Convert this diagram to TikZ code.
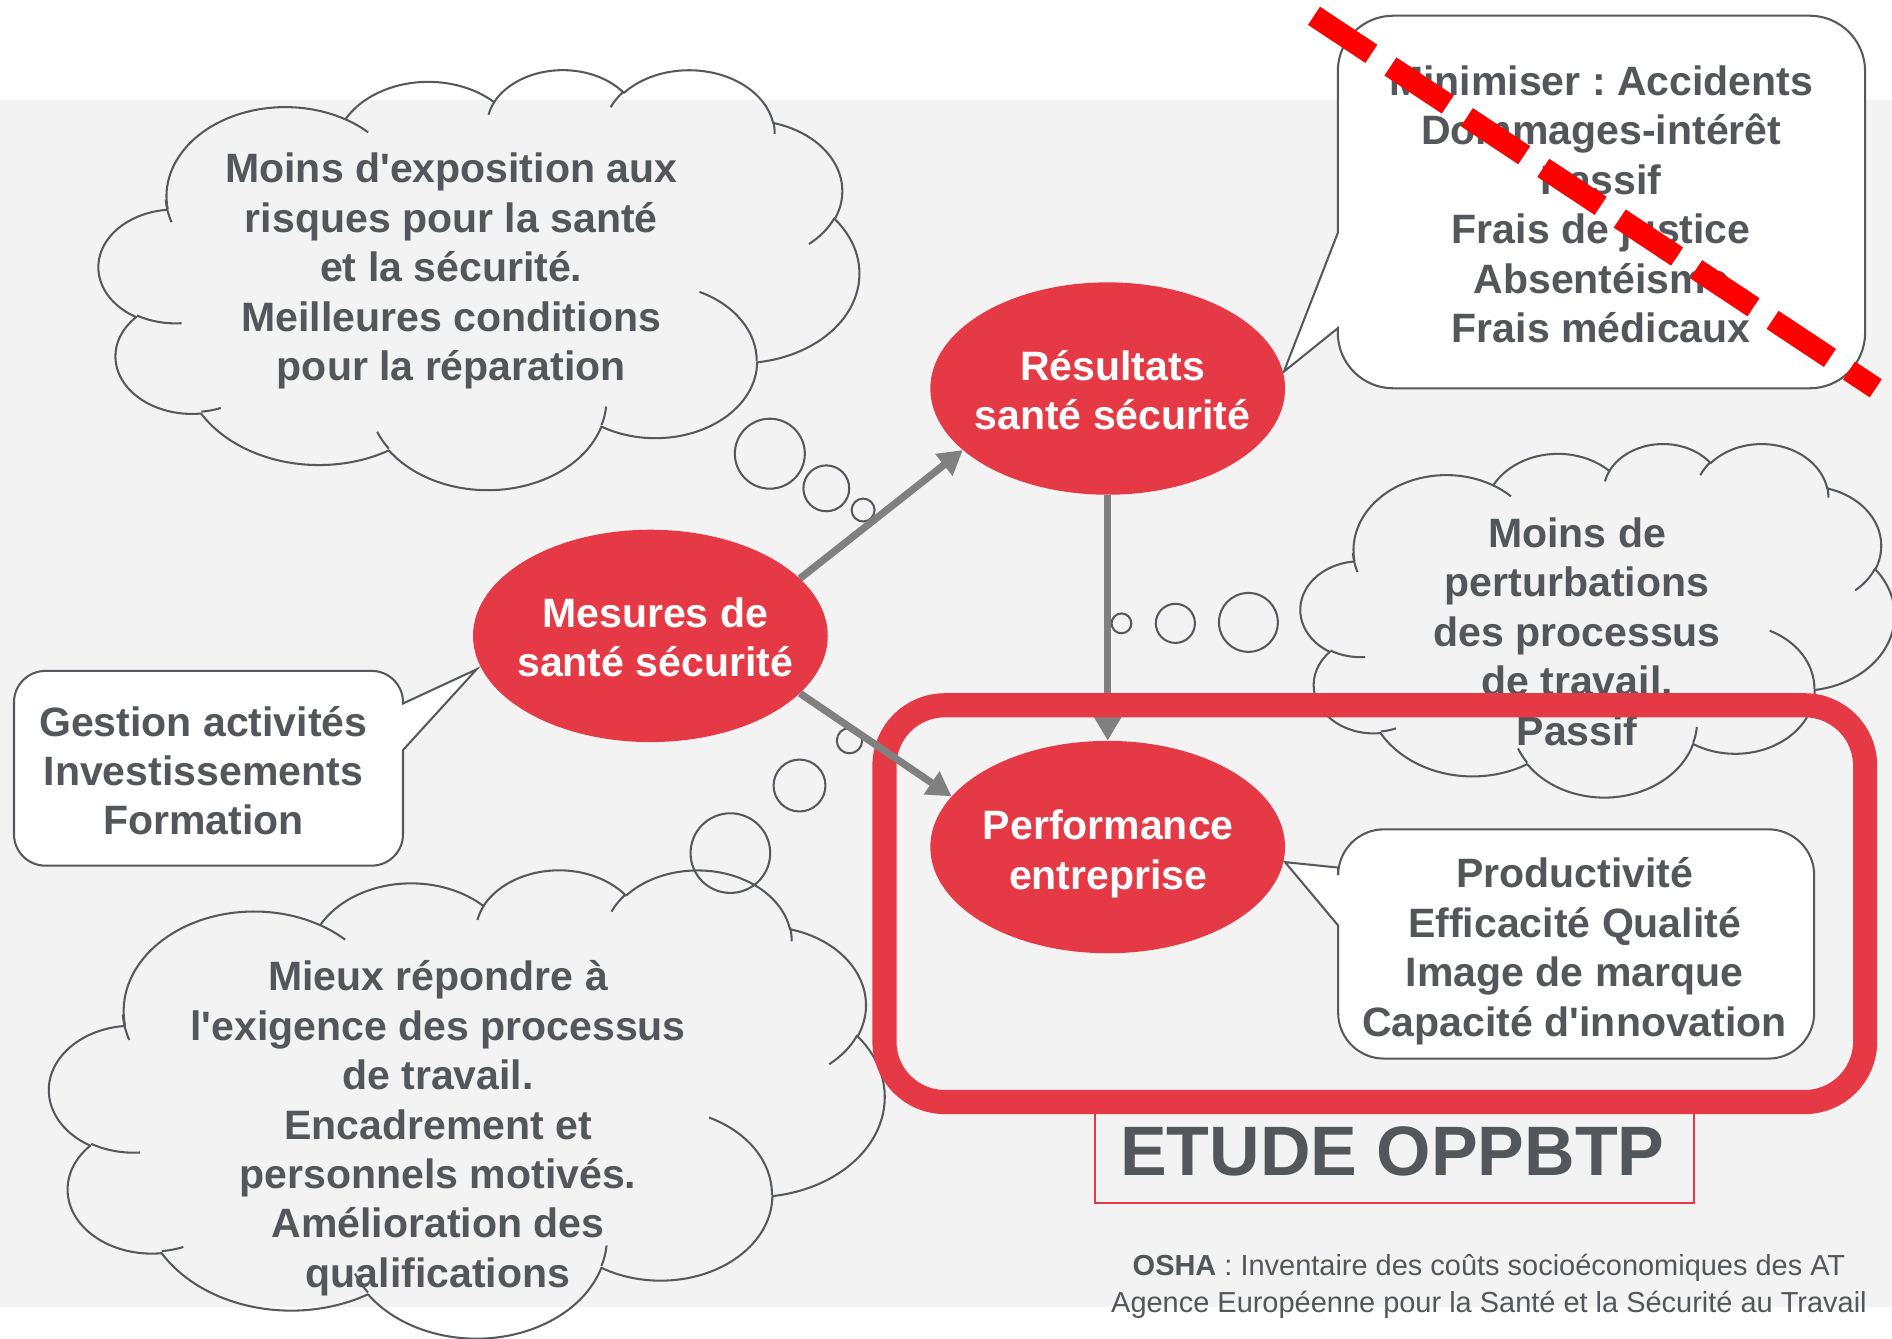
\documentclass[tikz,border=0pt]{standalone}
\usepackage{fontspec}
\setmainfont{Liberation Sans}
\usetikzlibrary{arrows.meta,shapes.geometric}
\frenchspacing
\definecolor{bgGray}{RGB}{243,243,243}
\definecolor{txtGray}{RGB}{83,86,90}
\definecolor{lnGray}{RGB}{85,88,92}
\definecolor{redOS}{RGB}{230,57,70}
\definecolor{arrGray}{RGB}{128,128,128}
\newcommand\topst{\rule{0pt}{39pt}}
\newcommand\botst{\rule[-7pt]{0pt}{7pt}}
\newcommand\topsm{\rule{0pt}{28pt}}
\newcommand\botsm{\rule[-4.8pt]{0pt}{4.8pt}}
\newcommand\ap{\textquotesingle}
\newcommand\carc[4]{arc[x radius=#1, y radius=#2, start angle={atan2((#1)*sin(#3),(#2)*cos(#3))}, delta angle={mod(atan2((#1)*sin((#3)+(#4)),(#2)*cos((#3)+(#4)))-atan2((#1)*sin(#3),(#2)*cos(#3))+720,360)}]}
\newcommand\cloudAt[4]{%
 \begin{scope}[shift={(#1,#2)}, x=#3pt/4320, y=-#4pt/4320]
 \draw[cloudln] (390,1437) \carc{675.3}{919.0}{-190.48748}{123.78053} \carc{533.3}{726.7}{-144.10238}{89.94523} \carc{436.5}{594.5}{-145.80792}{99.72302} \carc{485.7}{659.5}{-130.98607}{117.24173} \carc{533.3}{727.3}{-78.70888}{109.02692} \carc{677.5}{922.0}{-46.26725}{130.269} \carc{578.5}{786.7}{0.62502}{114.03333} \carc{675.2}{921.5}{22.4516}{115.17255} \carc{772.0}{1054.3}{66.24263}{75.71102} \carc{436.0}{591.8}{-274.94208}{146.73557} \carc{434.5}{594.5}{-246.8285}{152.51885} -- cycle;
 \draw[cloudln] (469.3,2617.7) \carc{434.5}{594.5}{86.742}{26.4295}
   (692.8,3489.9) \carc{436.0}{591.8}{73.61047}{11.44747}
   (1647.8,3909.0) \carc{675.2}{921.5}{137.62415}{14.0811}
   (2882.7,3475.1) \carc{675.2}{921.5}{6.45327}{15.99835}
   (3412.9,2295.4) \carc{578.5}{786.7}{-70.29235}{70.91737}
   (4179.8,1535.4) \carc{533.3}{727.3}{30.31803}{27.7515}
   (3832.4,542.6) \carc{485.7}{659.5}{-13.74433}{14.8589}
   (2907.8,395.2) \carc{485.7}{659.5}{-149.18145}{18.19537}
   (2214.1,472.0) \carc{436.5}{594.5}{-163.49427}{17.68635}
   (1400.0,519.2) \carc{675.3}{919.0}{-66.70695}{12.31935}
   (412.7,1578.9) \carc{675.3}{919.0}{155.6472}{19.55145};
 \end{scope}}
\tikzset{
 cloudln/.style={draw=lnGray, line width=1.7pt, line join=round},
 calloutln/.style={draw=lnGray, fill=white, line width=1.7pt, line join=miter},
 bigtxt/.style={inner sep=0pt, text=txtGray, align=center, font=\bfseries\fontsize{34}{41}\selectfont, execute at begin node=\topst, execute at end node=\botst},
 elltxt/.style={bigtxt, text=white},
 ell/.style={ellipse, fill=redOS, minimum width=294pt, minimum height=176pt, inner sep=0pt},
 flow/.style={draw=arrGray, line width=6pt, -{Triangle[length=20pt, width=22pt]}},
}
\begin{document}
\begin{tikzpicture}[x=1pt, y=-1pt]
\useasboundingbox (0,0) rectangle (1568,1109);
\fill[white] (0,0) rectangle (1568,1109);
\fill[bgGray] (0,83) rectangle (1568,1083);

% clouds
\cloudAt{82}{57}{630}{348}
\cloudAt{41}{720}{692}{388}
\cloudAt{1078}{367}{492}{293}
% thought bubbles
\draw[cloudln] (638,376) circle[radius=29] (684.8,404.7) circle[radius=19] (715.3,422.7) circle[radius=9.5];
\draw[cloudln] (929.4,516.6) circle[radius=8.2] (974.1,516.6) circle[radius=16.2] (1034.6,515.8) circle[radius=24.4];
\draw[cloudln] (704,613.8) circle[radius=10.5] (662.6,651) circle[radius=21.5] (605.3,707) circle[radius=33];

\node[bigtxt] (cloudA) at (374,224.8) {Moins d\ap exposition aux\\risques pour la santé\\et la sécurité.\\Meilleures conditions\\pour la réparation};
\node[bigtxt] (cloudB) at (1307,526.6) {Moins de\\perturbations\\des processus\\de travail.\\Passif};
\node[bigtxt] (cloudC) at (363,935) {Mieux répondre à\\l\ap exigence des processus\\de travail.\\Encadrement et\\personnels motivés.\\Amélioration des\\qualifications};

% callouts
\draw[calloutln] (1154.7,13) -- (1499.7,13) arc[start angle=-90, delta angle=90, radius=46] -- (1545.7,275.8) arc[start angle=0, delta angle=90, radius=46] -- (1154.7,321.8) arc[start angle=90, delta angle=90, radius=46] -- (1108.7,272) -- (1064,308) -- (1108.7,193) -- (1108.7,59) arc[start angle=180, delta angle=90, radius=46] -- cycle;
\node[bigtxt] (minim) at (1327,172.5) {Minimiser : Accidents\\Dommages-intérêt\\Passif\\Frais de justice\\Absentéisme\\Frais médicaux};

\draw[calloutln] (37.6,556) -- (308,556) arc[start angle=-90, delta angle=90, radius=26] -- (334,583) -- (395,554.7) -- (334,621.6) -- (334,691.4) arc[start angle=0, delta angle=90, radius=26] -- (37.6,717.4) arc[start angle=90, delta angle=90, radius=26] -- (11.6,582) arc[start angle=180, delta angle=90, radius=26] -- cycle;
\node[bigtxt] (gestion) at (168.5,642) {Gestion activités\\Investissements\\Formation};

\draw[calloutln] (1147,687.3) -- (1465.5,687.3) arc[start angle=-90, delta angle=90, radius=38] -- (1503.5,839.3) arc[start angle=0, delta angle=90, radius=38] -- (1147,877.3) arc[start angle=90, delta angle=90, radius=38] -- (1109,767) -- (1065,714.5) -- (1109,719) -- (1109,725.3) arc[start angle=180, delta angle=90, radius=38] -- cycle;
\node[bigtxt] (prod) at (1305,788.3) {Productivité\\Efficacité Qualité\\Image de marque\\Capacité d\ap innovation};

% ellipses
\node[ell] (mes) at (539,527) {};
\node[elltxt] (mesT) at (543,531.5) {Mesures de\\santé sécurité};
\node[ell] (res) at (918,322) {};
\node[elltxt] (resT) at (922,326.5) {Résultats\\santé sécurité};
\node[ell] (perf) at (918,702) {};
\node[elltxt] (perfT) at (918.5,707.5) {Performance\\entreprise};

% arrows
\draw[flow] (res.south) -- (perf.north);
\draw[flow] (mes.21) -- (res.203);

% ETUDE box
\node[draw=redOS, line width=1.5pt, minimum width=496pt, minimum height=92pt, inner sep=0pt] (etudebox) at (1155.6,951) {};
\node[anchor=base, inner sep=0pt, text=txtGray, font=\bfseries\fontsize{58}{70}\selectfont] (etude) at (1154,974) {ETUDE OPPBTP};

% red frame
\draw[redOS, line width=20pt, rounded corners=50pt] (733,584.5) rectangle (1545.7,913.3);
\draw[flow] (mes.-21) -- (perf.162);

\node[inner sep=0pt, text=txtGray, align=center, font=\fontsize{24}{30}\selectfont, execute at begin node=\topsm, execute at end node=\botsm] (osha) at (1234,1066) {\textbf{OSHA} : Inventaire des coûts socioéconomiques des AT\\Agence Européenne pour la Santé et la Sécurité au Travail};

% red dashed strike
\coordinate (sA) at (1089,13.1);
\coordinate (sB) at (1554.5,321.8);
\draw[red, line width=18pt, dash pattern=on 57pt off 19pt] (sA) -- (sB);
\end{tikzpicture}
\end{document}
